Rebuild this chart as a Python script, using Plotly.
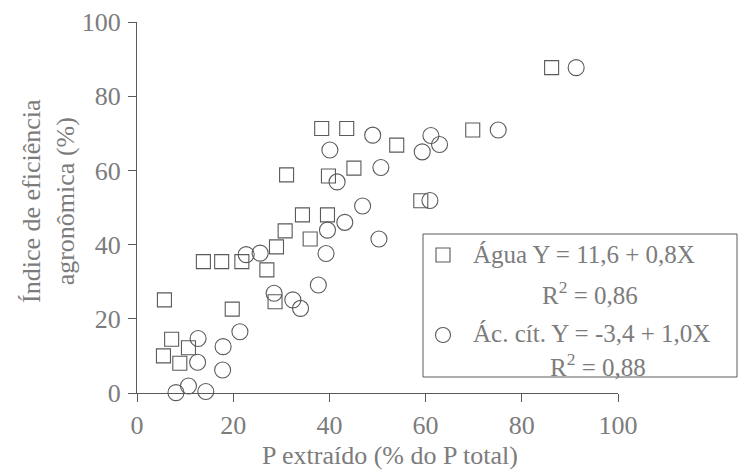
import plotly.graph_objects as go

# P extracted (% of total P) vs. agronomic efficiency index (%), two extractants
agua_x = [5.7, 5.5, 7.2, 8.9, 10.7, 13.8, 17.6, 19.8, 21.8, 27.0, 28.7, 29.0, 30.8,
          31.1, 34.4, 36.0, 38.4, 39.6, 39.8, 43.6, 45.1, 54.0, 59.0, 69.8, 86.2]
agua_y = [25.1, 10.0, 14.5, 8.0, 12.2, 35.4, 35.4, 22.6, 35.4, 33.2, 24.6, 39.4, 43.7,
          58.8, 48.0, 41.5, 71.3, 48.0, 58.5, 71.3, 60.6, 66.8, 51.8, 70.9, 87.7]

acit_x = [8.1, 10.7, 14.3, 12.6, 12.7, 17.8, 17.9, 21.4, 22.7, 25.6, 28.5, 32.4, 34.0,
          37.7, 39.3, 39.6, 40.1, 41.6, 43.2, 46.9, 49.0, 50.3, 50.7, 59.3, 60.9, 61.1,
          62.9, 75.1, 91.3]
acit_y = [0.1, 1.9, 0.4, 8.3, 14.7, 6.2, 12.5, 16.5, 37.3, 37.7, 26.9, 25.1, 22.8,
          29.1, 37.6, 43.9, 65.5, 56.9, 46.0, 50.4, 69.5, 41.5, 60.8, 65.0, 51.9, 69.4,
          67.0, 70.9, 87.7]

tick_vals = [0, 20, 40, 60, 80, 100]
tick_text = ["0", "20", "40", "60", "80", "100"]

x_title = "P extraído (% do P total)"
y_title = "Índice de eficiência<br>agronômica (%)"
agua_eq = "Água Y = 11,6 + 0,8X"
agua_r2 = "R<sup>2</sup> = 0,86"
acit_eq = "Ác. cít. Y = -3,4 + 1,0X"
acit_r2 = "R<sup>2</sup> = 0,88"

W, H = 739, 471
L, R, T, B = 137, 121, 22, 78
PW, PH = W - L - R, H - T - B

FONT = "Liberation Serif, Times New Roman, serif"
FS = 26
LEG_FS = 25
TXT = "#7c7c7c"
LINE = "#5a5a5a"


def px(xp):
    return (xp - L) / PW


def py(yp):
    return (H - B - yp) / PH


fig = go.Figure()
fig.add_trace(go.Scatter(
    x=agua_x, y=agua_y, mode="markers", name="Água", cliponaxis=False,
    marker=dict(symbol="square-open", size=14, color=LINE, line=dict(width=1.1, color=LINE)),
))
fig.add_trace(go.Scatter(
    x=acit_x, y=acit_y, mode="markers", name="Ác. cít.", cliponaxis=False,
    marker=dict(symbol="circle-open", size=16, color=LINE, line=dict(width=1.1, color=LINE)),
))

axis_common = dict(
    range=[0, 100], tickvals=tick_vals, ticktext=tick_text,
    showgrid=False, zeroline=False, showline=True, linecolor=LINE, linewidth=1,
    ticks="outside", ticklen=8, tickcolor=LINE, tickwidth=1,
    tickfont=dict(family=FONT, size=FS, color=TXT),
)

fig.update_layout(
    width=W, height=H, margin=dict(l=L, r=R, t=T, b=B, autoexpand=False),
    paper_bgcolor="white", plot_bgcolor="white", showlegend=False,
    xaxis=dict(**axis_common, ticklabelstandoff=1),
    yaxis=dict(**axis_common, ticklabelstandoff=2),
)

# Axis titles
fig.add_annotation(text=x_title, xref="paper", yref="paper", x=px(390), y=py(455),
                   showarrow=False, font=dict(family=FONT, size=FS, color=TXT),
                   xanchor="center", yanchor="middle", borderpad=0)
fig.add_annotation(text=y_title, xref="paper", yref="paper", x=px(48), y=py(201),
                   showarrow=False, textangle=-90, font=dict(family=FONT, size=FS, color=TXT),
                   xanchor="center", yanchor="middle")

# Legend box with regression equations
fig.add_shape(type="rect", xref="paper", yref="paper",
              x0=px(423), x1=px(737), y0=py(377), y1=py(234),
              line=dict(color=LINE, width=1))
fig.add_shape(type="rect", xref="paper", yref="paper",
              x0=px(436), x1=px(450), y0=py(262), y1=py(248),
              line=dict(color=LINE, width=1.1))
fig.add_shape(type="circle", xref="paper", yref="paper",
              x0=px(435.5), x1=px(450.5), y0=py(342.5), y1=py(327.5),
              line=dict(color=LINE, width=1.1))

leg_font = dict(family=FONT, size=LEG_FS, color=TXT)
for text, xp, yp, anchor in [
    (agua_eq, 472, 255, "left"),
    (agua_r2, 590, 293, "center"),
    (acit_eq, 472, 333, "left"),
    (acit_r2, 598, 365, "center"),
]:
    fig.add_annotation(text=text, xref="paper", yref="paper", x=px(xp), y=py(yp),
                       showarrow=False, font=leg_font, xanchor=anchor, yanchor="middle",
                       borderpad=0)

fig.write_html("out.html")
